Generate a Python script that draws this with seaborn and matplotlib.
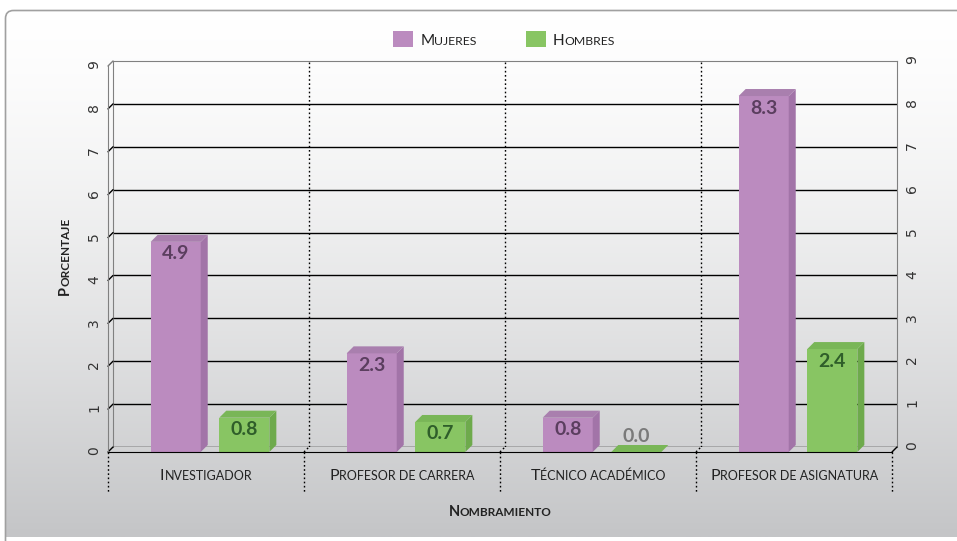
import numpy as np
import pandas as pd
import seaborn as sns
import matplotlib.pyplot as plt
from matplotlib.patches import Polygon, FancyBboxPatch
from matplotlib.lines import Line2D
from matplotlib.transforms import IdentityTransform, ScaledTranslation, blended_transform_factory

categories = ["Investigador", "Profesor de carrera", "Técnico académico", "Profesor de asignatura"]
series = ["Mujeres", "Hombres"]
mujeres = [4.9, 2.3, 0.8, 8.3]
hombres = [0.8, 0.7, 0.0, 2.4]
y_ticks = list(range(10))

W, H, DPI = 957, 541, 100
FONT = ["Lato", "DejaVu Sans"]
STYLE = {
    "Mujeres": {"front": "#bb8bbf", "side": "#a274a8", "top": "#a97fae", "text": "#5b3e5f"},
    "Hombres": {"front": "#88c563", "side": "#6eaa4c", "top": "#79b657", "text": "#2f5e2a"},
}
DEPTH = (7, 7)      # 3d depth of the bars, in pixels
SHIFT = 4 / DPI     # bars sit a few pixels right of the group centre


def rect(left, top, right, bottom):
    return [left / W, 1 - bottom / H, (right - left) / W, (bottom - top) / H]


def small_caps(fig, x, y, text, transform, big, small, weight="normal",
               rotation=0, ha="center", color="#222222"):
    renderer = fig.canvas.get_renderer()
    made = []
    for s, size in [(text[0], big), (text[1:].upper(), small)]:
        t = fig.text(x, y, s, transform=transform, fontsize=size, fontweight=weight,
                     family=FONT, color=color, ha="left", va="baseline")
        made.append((t, t.get_window_extent(renderer).width))
    total = sum(w for _, w in made)
    ang = np.deg2rad(rotation)
    pos = -total / 2 if ha == "center" else 0
    for t, w in made:
        off = ScaledTranslation(pos * np.cos(ang) / DPI, pos * np.sin(ang) / DPI, fig.dpi_scale_trans)
        t.set_transform(transform + off)
        t.set_rotation(rotation)
        t.set_rotation_mode("anchor")
        pos += w


def line_px(fig, p0, p1, **kw):
    fig.add_artist(Line2D([p0[0], p1[0]], [p0[1], p1[1]], transform=IdentityTransform(), **kw))


df = pd.DataFrame({
    "Nombramiento": categories * 2,
    "Sexo": [series[0]] * len(categories) + [series[1]] * len(categories),
    "Porcentaje": mujeres + hombres,
})

sns.set_style("white")
plt.rcParams["font.family"] = FONT

fig = plt.figure(figsize=(W / DPI, H / DPI), dpi=DPI)

# background panel with vertical gradient
bg = fig.add_axes([0, 0, 1, 1], zorder=-10)
bg.set_xlim(0, W)
bg.set_ylim(H, 0)
bg.axis("off")
frac = np.linspace(0, 1, 256) ** 1.4
top_c = np.array([1.0, 1.0, 1.0])
bot_c = np.array([196, 197, 199]) / 255
grad = (top_c[None, :] * (1 - frac[:, None]) + bot_c[None, :] * frac[:, None])[:, None, :]
box = FancyBboxPatch((5.5, 10.5), 1000, 560, boxstyle="round,pad=0,rounding_size=8",
                     fc="none", ec="#a0a0a0", lw=1.2)
bg.add_patch(box)
img = bg.imshow(grad, extent=(5, W + 10, 537, 10), aspect="auto", zorder=0)
img.set_clip_path(box)

# back wall (grid + right ticks) and front plane (bars + left ticks)
axb = fig.add_axes(rect(113, 61, 897, 447), zorder=1)
ax = fig.add_axes(rect(108, 66, 892, 452), zorder=2)
for a in (axb, ax):
    a.set_facecolor("none")
    a.set_xlim(-0.5, len(categories) - 0.5)
    a.set_ylim(0, 9)

for v in y_ticks[:-1]:
    axb.axhline(v, color="black", lw=1)
for i in range(1, len(categories)):
    axb.axvline(i - 0.5, color="black", lw=1, ls=(0, (1.2, 1.8)))
axb.set_xticks([])
axb.set_yticks(y_ticks)
axb.yaxis.tick_right()
axb.tick_params(axis="y", length=0, pad=6, labelrotation=90, labelsize=10, labelcolor="#333333")
for lab in axb.get_yticklabels():
    lab.set_family("DejaVu Sans")
for s in ["left", "right", "top"]:
    axb.spines[s].set_color("#808080")
axb.spines["bottom"].set_visible(False)

sns.barplot(data=df, x="Nombramiento", y="Porcentaje", hue="Sexo", hue_order=series,
            palette=[STYLE[s]["front"] for s in series], saturation=1, width=0.7, gap=0.27,
            linewidth=0, ax=ax)
handles, labels = ax.get_legend_handles_labels()
ax.get_legend().remove()
ax.set_xlim(-0.5, len(categories) - 0.5)
ax.set_ylim(0, 9)
ax.set_xticks([])
ax.set_xlabel("")
ax.set_ylabel("")
ax.set_yticks(y_ticks)
ax.tick_params(axis="y", length=0, pad=5, labelrotation=90, labelsize=10, labelcolor="#333333")
for lab in ax.get_yticklabels():
    lab.set_family("DejaVu Sans")
ax.spines["left"].set_color("#808080")
ax.spines["bottom"].set_color("black")
ax.spines["right"].set_visible(False)
ax.spines["top"].set_visible(False)

# side wall diagonals and floor corner
for v in y_ticks:
    p0 = ax.transData.transform((-0.5, v))
    p1 = axb.transData.transform((-0.5, v))
    line_px(fig, p0, p1, color="black" if v < 9 else "#808080", lw=1)
line_px(fig, ax.transData.transform((3.5, 0)), axb.transData.transform((3.5, 0)), color="black", lw=1)

# dotted group separators below the floor
low = blended_transform_factory(ax.transData, ax.transAxes)
for i in range(len(categories) + 1):
    ax.plot([i - 0.5, i - 0.5], [0, -41 / 386], transform=low, clip_on=False,
            color="black", lw=1, ls=(0, (1.2, 1.8)))
    if 0 < i < len(categories):
        line_px(fig, ax.transData.transform((i - 0.5, 0)), axb.transData.transform((i - 0.5, 0)),
                color="black", lw=1, ls=(0, (1.2, 1.8)))

# 3d faces and value labels
shift = ScaledTranslation(SHIFT, 0, fig.dpi_scale_trans)
dx, dy = DEPTH
for name, cont in zip(series, ax.containers):
    st = STYLE[name]
    for bar in cont:
        bar.set_transform(ax.transData + shift)
        (L, B), (R, T) = (ax.transData + shift).transform(
            [(bar.get_x(), bar.get_y()), (bar.get_x() + bar.get_width(), bar.get_y() + bar.get_height())])
        fig.add_artist(Polygon([(R, B), (R + dx, B + dy), (R + dx, T + dy), (R, T)], closed=True,
                               transform=IdentityTransform(), fc=st["side"], ec="none", zorder=3))
        fig.add_artist(Polygon([(L, T), (R, T), (R + dx, T + dy), (L + dx, T + dy)], closed=True,
                               transform=IdentityTransform(), fc=st["top"], ec="none", zorder=3))
        val = bar.get_height()
        if val > 0:
            ty, col = T - 12, st["text"]
        else:
            ty, col = T + 16, "#7a7a7a"
        fig.text((L + R) / 2, ty, f"{val:.1f}", transform=IdentityTransform(), ha="center",
                 va="center", fontsize=14, fontweight="bold", family=FONT, color=col, zorder=4)

# category labels and axis titles in small caps
for i, cat in enumerate(categories):
    small_caps(fig, i, -28 / 386, cat, low, big=11.5, small=9)
small_caps(fig, 0.5, -64 / 386, "Nombramiento", ax.transAxes, big=10.5, small=8.5, weight="bold")
small_caps(fig, 69 / W, 1 - 256 / H, "Porcentaje", fig.transFigure, big=10.5, small=8.5,
           weight="bold", rotation=90)

# legend
leg = fig.legend(handles, labels, loc="center", bbox_to_anchor=(501 / W, 1 - 39 / H), ncol=2,
                 frameon=False, fontsize=10, handlelength=1.45, handleheight=1.35,
                 handletextpad=0.5, columnspacing=4.0)
fig.canvas.draw()
renderer = fig.canvas.get_renderer()
for txt in leg.get_texts():
    bb = txt.get_window_extent(renderer)
    txt.set_alpha(0)
    small_caps(fig, bb.x0, H - 45, txt.get_text(), IdentityTransform(), big=11, small=8.8, ha="left")

fig.savefig("out.png", dpi=DPI)
